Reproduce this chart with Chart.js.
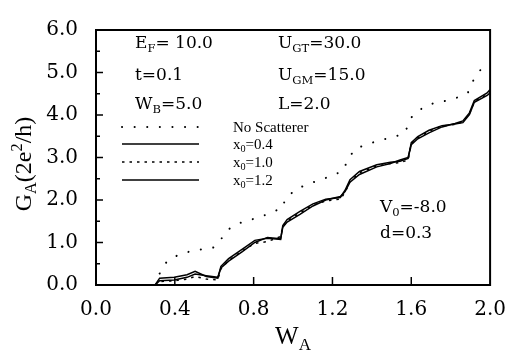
<!DOCTYPE html>
<html>
<head>
<meta charset="utf-8">
<script src="https://cdn.jsdelivr.net/npm/chart.js@4.4.0/dist/chart.umd.min.js"></script>
<style>
  html, body { margin: 0; padding: 0; background: #fff; }
  #wrap { width: 519px; height: 357px; }
</style>
</head>
<body>
<div id="wrap"><canvas id="gaChart"></canvas></div>
<script>
// valores
var xTicks = [0.0, 0.4, 0.8, 1.2, 1.6, 2.0]
var yTicks = [0.0, 1.0, 2.0, 3.0, 4.0, 5.0, 6.0]

var noScatX = [0.323, 0.359, 0.418, 0.477, 0.536, 0.595, 0.629, 0.668, 0.732, 0.789, 0.850, 0.902, 0.950, 0.958, 1.017, 1.085, 1.145, 1.253, 1.275, 1.313, 1.376, 1.437, 1.499, 1.560, 1.580, 1.604, 1.661, 1.720, 1.784, 1.833, 1.887, 1.912, 1.951]
var noScatY = [0.27, 0.55, 0.71, 0.79, 0.84, 0.88, 1.04, 1.30, 1.46, 1.54, 1.63, 1.73, 1.82, 2.02, 2.26, 2.39, 2.48, 2.68, 2.92, 3.20, 3.31, 3.40, 3.47, 3.55, 3.71, 3.97, 4.18, 4.29, 4.34, 4.41, 4.52, 4.79, 5.06]

var curveX = [0.30, 0.323, 0.397, 0.462, 0.503, 0.560, 0.618, 0.634, 0.673, 0.741, 0.806, 0.870, 0.937, 0.948, 0.970, 1.035, 1.101, 1.166, 1.240, 1.264, 1.289, 1.337, 1.425, 1.494, 1.543, 1.584, 1.600, 1.633, 1.690, 1.756, 1.822, 1.862, 1.895, 1.920, 1.985, 2.0]
var x04Y = [0, 0.16, 0.18, 0.24, 0.32, 0.20, 0.16, 0.44, 0.62, 0.84, 1.05, 1.10, 1.07, 1.40, 1.54, 1.73, 1.91, 2.02, 2.06, 2.23, 2.48, 2.67, 2.83, 2.89, 2.91, 2.98, 3.35, 3.49, 3.64, 3.75, 3.79, 3.82, 4.01, 4.30, 4.46, 4.52]
var x10Y = [0, 0.08, 0.10, 0.14, 0.20, 0.14, 0.12, 0.38, 0.58, 0.80, 0.98, 1.02, 1.14, 1.38, 1.50, 1.70, 1.88, 1.98, 2.02, 2.18, 2.44, 2.64, 2.80, 2.86, 2.88, 2.94, 3.32, 3.46, 3.62, 3.74, 3.78, 3.84, 4.02, 4.32, 4.48, 4.56]
var x12Y = [0, 0.10, 0.12, 0.18, 0.26, 0.22, 0.18, 0.40, 0.56, 0.78, 1.00, 1.12, 1.09, 1.36, 1.48, 1.66, 1.86, 2.00, 2.08, 2.20, 2.42, 2.60, 2.78, 2.86, 2.94, 3.00, 3.30, 3.44, 3.58, 3.72, 3.80, 3.86, 4.05, 4.34, 4.52, 4.60]

function pts(xs, ys){
  return xs.map((x, i) => ({x: x, y: ys[i]}))
}

var SERIF = '"Liberation Serif", "DejaVu Serif", serif'
var WIDE = '"DejaVu Serif", serif'

// texto com sub/sobrescrito
function drawRich(ctx, parts, x, y, size, align, fam){
  fam = fam || SERIF
  var w = 0
  parts.forEach((p) => {
    var s = p[1] ? size * 0.68 : size
    ctx.font = s + 'px ' + fam
    w += ctx.measureText(p[0]).width
  })
  var cx = align == 'center' ? x - w / 2 : x
  parts.forEach((p) => {
    var s = p[1] ? size * 0.68 : size
    ctx.font = s + 'px ' + fam
    var dy = p[1] == 'sub' ? size * 0.22 : (p[1] == 'sup' ? -size * 0.38 : 0)
    ctx.fillText(p[0], cx, y + dy)
    cx += ctx.measureText(p[0]).width
  })
}

var decor = {
  id: 'decor',
  afterDraw(chart){
    var ctx = chart.ctx
    var a = chart.chartArea
    var xs = chart.scales.x, ys = chart.scales.y
    ctx.save()
    ctx.strokeStyle = '#000'
    ctx.fillStyle = '#000'

    // moldura
    ctx.lineWidth = 2
    ctx.strokeRect(a.left, a.top, a.right - a.left, a.bottom - a.top)

    // marcas internas
    ctx.lineWidth = 1.5
    for (var v = 0.5; v < 6; v += 0.5){
      var py = ys.getPixelForValue(v)
      var len = (v % 1 == 0) ? 7 : 4
      ctx.beginPath(); ctx.moveTo(a.left, py); ctx.lineTo(a.left + len, py); ctx.stroke()
    }
    xTicks.slice(1, -1).forEach((v) => {
      var px = xs.getPixelForValue(v)
      ctx.beginPath(); ctx.moveTo(px, a.bottom); ctx.lineTo(px, a.bottom - 8); ctx.stroke()
    })

    // títulos dos eixos
    ctx.textBaseline = 'alphabetic'
    drawRich(ctx, [['W'], ['A', 'sub']], 293, 344, 25, 'center')
    ctx.save()
    ctx.translate(31, 164)
    ctx.rotate(-Math.PI / 2)
    drawRich(ctx, [['G'], ['A', 'sub'], ['(2e'], ['2', 'sup'], ['/h)']], 0, 0, 24, 'center')
    ctx.restore()

    // parâmetros
    drawRich(ctx, [['E'], ['F', 'sub'], ['= 10.0']], 135, 48, 17, null, WIDE)
    drawRich(ctx, [['U'], ['GT', 'sub'], ['=30.0']], 278, 48, 17, null, WIDE)
    drawRich(ctx, [['t=0.1']], 135, 80, 17, null, WIDE)
    drawRich(ctx, [['U'], ['GM', 'sub'], ['=15.0']], 278, 80, 17, null, WIDE)
    drawRich(ctx, [['W'], ['B', 'sub'], ['=5.0']], 135, 109, 17, null, WIDE)
    drawRich(ctx, [['L=2.0']], 278, 109, 17, null, WIDE)
    drawRich(ctx, [['V'], ['0', 'sub'], ['=-8.0']], 380, 212, 17, null, WIDE)
    drawRich(ctx, [['d=0.3']], 380, 238, 17, null, WIDE)

    // legenda
    var leg = [
      ['No Scatterer', 127, 132],
      ['0.4', 144, 149],
      ['1.0', 162, 167],
      ['1.2', 180, 185]
    ]
    leg.forEach((l, i) => {
      var ds = chart.data.datasets[i]
      ctx.save()
      ctx.lineWidth = ds.borderWidth
      ctx.setLineDash(ds.borderDash || [])
      ctx.lineCap = ds.borderCapStyle || 'butt'
      ctx.beginPath(); ctx.moveTo(122, l[1]); ctx.lineTo(199, l[1]); ctx.stroke()
      ctx.restore()
      if (i == 0) drawRich(ctx, [[l[0]]], 233, l[2], 15)
      else drawRich(ctx, [['x'], ['0', 'sub'], ['=' + l[0]]], 233, l[2], 15)
    })
    ctx.restore()
  }
}

new Chart(document.getElementById('gaChart'), {
  type: 'line',
  data: {
    datasets: [
      {
        label: 'No Scatterer',
        data: pts(noScatX, noScatY),
        borderColor: '#000',
        borderWidth: 2,
        borderDash: [0.1, 12.5],
        borderCapStyle: 'round',
        pointRadius: 0,
        tension: 0
      },
      {
        label: 'x0=0.4',
        data: pts(curveX, x04Y),
        borderColor: '#000',
        borderWidth: 1.5,
        pointRadius: 0,
        tension: 0
      },
      {
        label: 'x0=1.0',
        data: pts(curveX, x10Y),
        borderColor: '#000',
        borderWidth: 1.5,
        borderDash: [2.5, 5],
        pointRadius: 0,
        tension: 0
      },
      {
        label: 'x0=1.2',
        data: pts(curveX, x12Y),
        borderColor: '#000',
        borderWidth: 1.5,
        pointRadius: 0,
        tension: 0
      }
    ]
  },
  options: {
    responsive: true,
    maintainAspectRatio: false,
    animation: false,
    layout: { padding: { top: 13, right: 16, left: 0, bottom: 0 } },
    plugins: {
      legend: { display: false },
      tooltip: { enabled: false }
    },
    scales: {
      x: {
        type: 'linear',
        min: 0,
        max: 2,
        afterBuildTicks: (s) => { s.ticks = xTicks.map((v) => ({value: v})) },
        afterFit: (s) => { s.height = 72 },
        grid: { display: false, drawTicks: false },
        border: { display: false },
        ticks: {
          padding: 13,
          color: '#000',
          font: { family: WIDE, size: 20 },
          callback: (v) => v.toFixed(1)
        }
      },
      y: {
        min: 0,
        max: 6,
        afterBuildTicks: (s) => { s.ticks = yTicks.map((v) => ({value: v})) },
        afterFit: (s) => { s.width = 96 },
        grid: { display: false, drawTicks: false },
        border: { display: false },
        ticks: {
          padding: 18,
          color: '#000',
          font: { family: WIDE, size: 20 },
          callback: (v) => v.toFixed(1)
        }
      }
    }
  },
  plugins: [decor]
})
</script>
</body>
</html>
